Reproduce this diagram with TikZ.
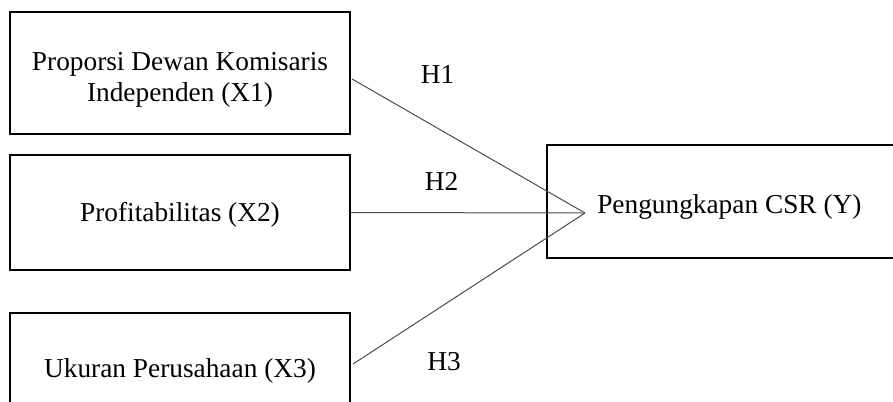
\documentclass[tikz,border=0pt]{standalone}
\usepackage{fontspec}
\setmainfont{Liberation Serif}
\usetikzlibrary{calc}
\begin{document}
\begin{tikzpicture}[x=0.75pt,y=-0.75pt,
  box/.style={draw=black,line width=1.6pt,rectangle,inner sep=0pt,minimum width=255pt},
  lbl/.style={inner sep=0pt,anchor=base,font=\fontsize{20.5}{23}\selectfont},
  conn/.style={draw=black!70,line width=0.75pt}]
\useasboundingbox (0,0) rectangle (893,401);
\clip (0,0) rectangle (893,401);
% boxes
\node[box,minimum height=91.5pt] (b1) at (180,73) {};
\node[box,minimum height=86.25pt] (b2) at (180,212.5) {};
\node[box,minimum height=85.5pt] (b3) at (180,370) {};
\node[box,minimum width=285pt,minimum height=84.75pt] (by) at (737,201.5) {};
% texts
\node[lbl] (t1a) at (180,70) {Proporsi Dewan Komisaris};
\node[lbl] (t1b) at (180,101) {Independen (X1)};
\node[lbl] (t2) at (180,221.5) {Profitabilitas (X2)};
\node[lbl] (t3) at (180,377) {Ukuran Perusahaan (X3)};
\node[lbl,anchor=base west] (ty) at (597,213) {Pengungkapan CSR (Y)};
% hypothesis labels
\node[lbl] (h1) at (437.5,83) {H1};
\node[lbl] (h2) at (441.5,190) {H2};
\node[lbl] (h3) at (444,370) {H3};
% convergence point
\coordinate (m) at ($(ty.base west)+(-12,0)$);
% connectors
\draw[conn] ($(b1.east)+(1,6)$) -- (m);
\draw[conn] (b2.east) -- (m);
\draw[conn] ($(b3.east)+(2,-6)$) -- (m);
\end{tikzpicture}
\end{document}
